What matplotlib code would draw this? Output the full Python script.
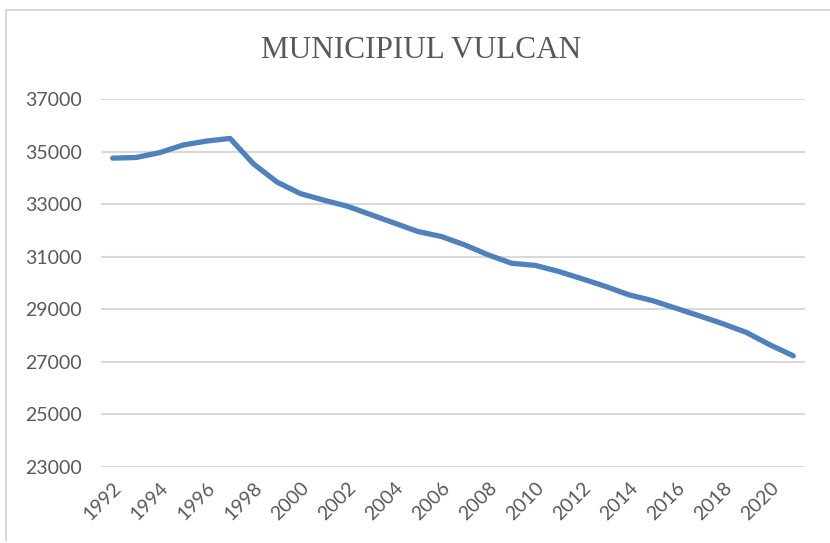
import matplotlib
matplotlib.use("Agg")
import matplotlib.pyplot as plt
from matplotlib.lines import Line2D

years = list(range(1992, 2022))
population = [34750, 34775, 34960, 35250, 35400, 35500, 34530, 33840, 33400, 33150,
              32920, 32600, 32280, 31960, 31770, 31450, 31070, 30750, 30670, 30440,
              30160, 29870, 29550, 29330, 29040, 28750, 28450, 28120, 27650, 27230]
yticks = [23000, 25000, 27000, 29000, 31000, 33000, 35000, 37000]
title = "MUNICIPIUL VULCAN"

fig = plt.figure(figsize=(8.3, 5.43), dpi=100)
ax = fig.add_axes([101/830, 1-467/543, (805-101)/830, (467-99)/543])

x = list(range(len(years)))
ax.plot(x, population, color="#4F81BD", lw=3.8, solid_capstyle="round",
        solid_joinstyle="round", zorder=3)

ax.set_xlim(-0.5, len(years) - 0.5)
ax.set_ylim(23000, 37000)
ax.set_yticks(yticks)
ax.set_yticklabels([str(v) for v in yticks], fontfamily="Lato", fontsize=14, color="#595959")
ax.yaxis.grid(True, color="#D9D9D9", lw=1.5)
ax.set_axisbelow(True)

xt = [i for i, y in enumerate(years) if y % 2 == 0]
ax.set_xticks(xt)
ax.set_xticklabels([str(years[i]) for i in xt], rotation=45, ha="right", va="top",
                   rotation_mode="anchor", fontfamily="Lato", fontsize=14, color="#595959")

ax.tick_params(axis="both", length=0)
ax.tick_params(axis="y", pad=14)
ax.tick_params(axis="x", pad=9)
for s in ax.spines.values():
    s.set_visible(False)

fig.text(421/830, 1-51/543, title, ha="center", va="center", fontfamily="Liberation Serif",
         fontsize=22.5, color="#595959")

# chart border (top and left visible)
fig.add_artist(Line2D([6/830, 1.0], [1-10/543, 1-10/543], color="#D9D9D9", lw=1.5,
                      transform=fig.transFigure))
fig.add_artist(Line2D([6/830, 6/830], [1-10/543, 1-540/543], color="#D9D9D9", lw=1.5,
                      transform=fig.transFigure))

fig.savefig("out.png", dpi=100)
